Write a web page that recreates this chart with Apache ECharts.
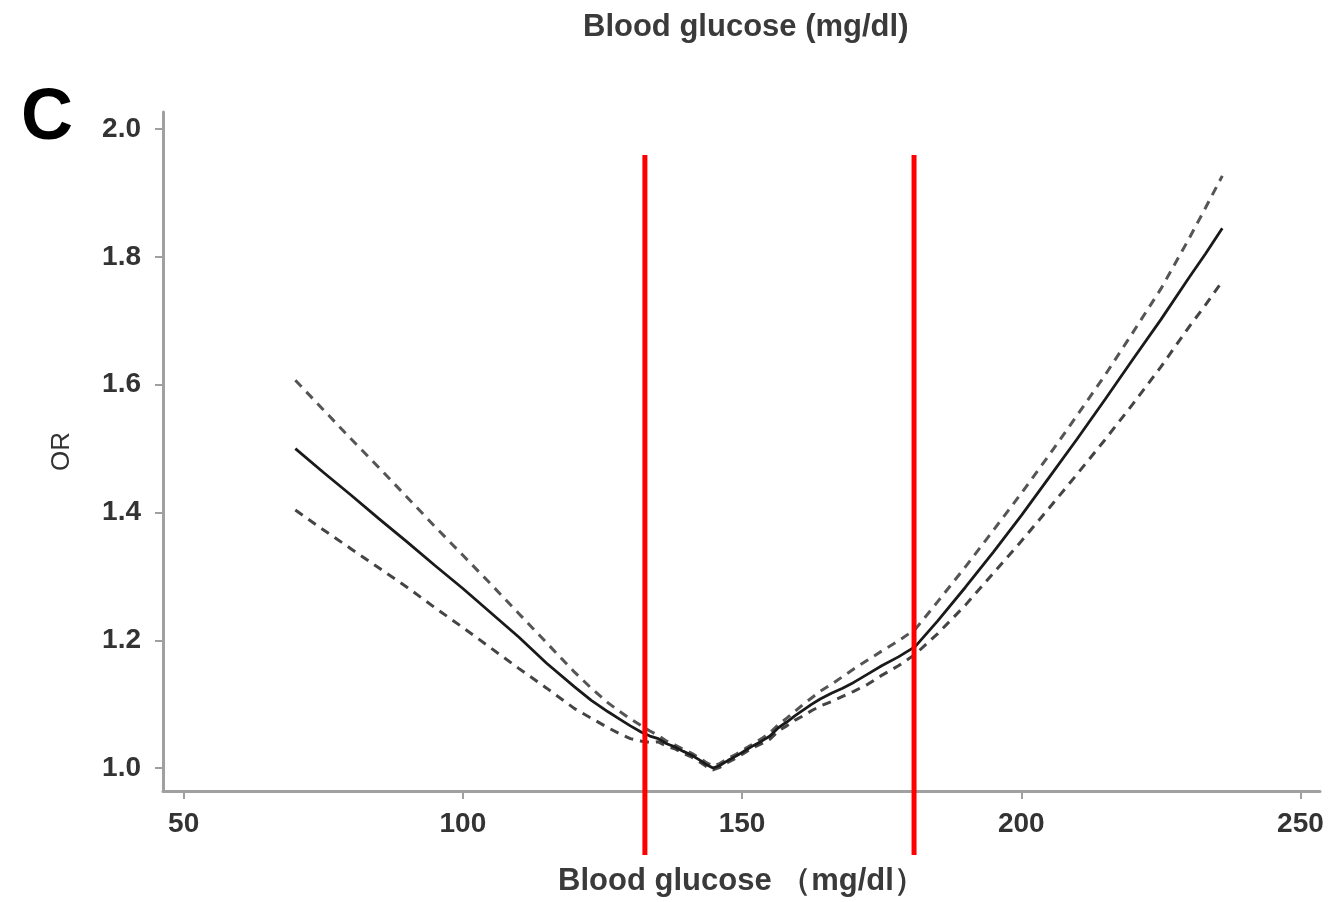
<!DOCTYPE html>
<html>
<head>
<meta charset="utf-8">
<script src="https://cdn.jsdelivr.net/npm/echarts@6/dist/echarts.min.js"></script>
<style>html,body{margin:0;padding:0;background:#fff;}#chart{width:1329px;height:902px;}</style>
</head>
<body>
<div id="chart"></div>
<script>
var glucose = [70,75,80,85,90,95,100,105,110,115,120,123,126,128,130,132,133.5,135,136.5,138,139.5,141,142.5,143.5,144.8,146,147.5,149,150.5,152,153.5,155,156.5,158,159.5,161,162.5,164,166,168,170,172.5,175,178,181,185,190,195,200,205,210,215,220,225,230,233,236];
var orMain = [1.500,1.463,1.427,1.390,1.354,1.317,1.281,1.243,1.205,1.164,1.127,1.106,1.088,1.077,1.066,1.056,1.050,1.046,1.038,1.033,1.026,1.020,1.012,1.006,1.000,1.004,1.012,1.019,1.027,1.035,1.042,1.050,1.063,1.072,1.082,1.091,1.100,1.108,1.117,1.125,1.134,1.147,1.160,1.174,1.190,1.230,1.283,1.338,1.395,1.455,1.515,1.577,1.640,1.702,1.767,1.805,1.845];
var orUpper = [1.607,1.561,1.515,1.470,1.424,1.378,1.333,1.288,1.242,1.196,1.150,1.125,1.102,1.089,1.077,1.066,1.058,1.051,1.042,1.036,1.029,1.023,1.015,1.009,1.003,1.007,1.015,1.022,1.030,1.038,1.046,1.055,1.068,1.078,1.089,1.100,1.110,1.120,1.131,1.143,1.155,1.169,1.183,1.199,1.217,1.260,1.315,1.372,1.430,1.490,1.552,1.615,1.682,1.750,1.828,1.877,1.927];
var orLower = [1.404,1.373,1.343,1.313,1.283,1.251,1.220,1.188,1.156,1.125,1.093,1.078,1.063,1.054,1.046,1.042,1.040,1.041,1.034,1.030,1.023,1.017,1.009,1.003,0.997,1.001,1.009,1.016,1.024,1.032,1.038,1.045,1.058,1.066,1.075,1.082,1.090,1.097,1.104,1.112,1.120,1.131,1.145,1.160,1.178,1.210,1.255,1.305,1.355,1.407,1.460,1.514,1.570,1.628,1.690,1.725,1.762];
var xTicks = [50,100,150,200,250];
var yTicks = [1.0,1.2,1.4,1.6,1.8,2.0];
var redLineX = [132.6,180.8];

function pairs(ys){ return glucose.map(function(x,i){ return [x, ys[i]]; }); }

var font = 'Liberation Sans, Arial, sans-serif';
var axisCol = '#a0a0a0';
var series = [
  {type:'line', xAxisIndex:0, yAxisIndex:0, data:pairs(orUpper), symbol:'none', smooth:false,
   lineStyle:{color:'#555', width:3, type:[9,7]}, z:2},
  {type:'line', xAxisIndex:0, yAxisIndex:0, data:pairs(orLower), symbol:'none', smooth:false,
   lineStyle:{color:'#444', width:3, type:[9,7]}, z:2},
  {type:'line', xAxisIndex:0, yAxisIndex:0, data:pairs(orMain), symbol:'none', smooth:false,
   lineStyle:{color:'#1a1a1a', width:2.8}, z:3}
];
redLineX.forEach(function(x){
  series.push({type:'line', xAxisIndex:1, yAxisIndex:1, data:[[x,0],[x,1]], symbol:'none',
    lineStyle:{color:'#ff0000', width:5}, z:10});
});

var chart = echarts.init(document.getElementById('chart'));
chart.setOption({
  animation:false,
  backgroundColor:'#fff',
  title:[
    {text:'Blood glucose (mg/dl)', left:578, top:7,
     textStyle:{fontFamily:font, fontSize:31, fontWeight:'bold', color:'#3a3a3a'}},
    {text:'C', left:16, top:78,
     textStyle:{fontFamily:font, fontSize:72, fontWeight:'bold', color:'#000'}}
  ],
  grid:[
    {left:163, right:9, top:112, bottom:108},
    {left:163, right:9, top:155, bottom:47}
  ],
  xAxis:[
    {type:'value', gridIndex:0, min:46.3, max:253.5,
     name:'Blood glucose \uff08mg/dl\uff09', nameLocation:'middle', nameGap:75,
     nameTextStyle:{fontFamily:font, fontSize:31, fontWeight:'bold', color:'#3a3a3a'},
     axisLine:{show:true, lineStyle:{color:axisCol, width:3}},
     axisTick:{show:true, length:8, customValues:xTicks, lineStyle:{color:axisCol, width:2}},
     axisLabel:{customValues:xTicks, margin:19, fontFamily:font, fontSize:28, fontWeight:'bold', color:'#333'},
     splitLine:{show:false}},
    {type:'value', gridIndex:1, min:46.3, max:253.5, show:false}
  ],
  yAxis:[
    {type:'value', gridIndex:0, min:0.964, max:2.027,
     name:'OR', nameLocation:'middle', nameGap:88, nameRotate:90,
     nameTextStyle:{fontFamily:font, fontSize:26, color:'#333'},
     axisLine:{show:true, lineStyle:{color:axisCol, width:3}},
     axisTick:{show:true, length:8, customValues:yTicks, lineStyle:{color:axisCol, width:2}},
     axisLabel:{customValues:yTicks, margin:22, fontFamily:font, fontSize:28, fontWeight:'bold', color:'#333',
       formatter:function(v){ return v.toFixed(1); }},
     splitLine:{show:false}},
    {type:'value', gridIndex:1, min:0, max:1, show:false}
  ],
  series:series
});
</script>
</body>
</html>
